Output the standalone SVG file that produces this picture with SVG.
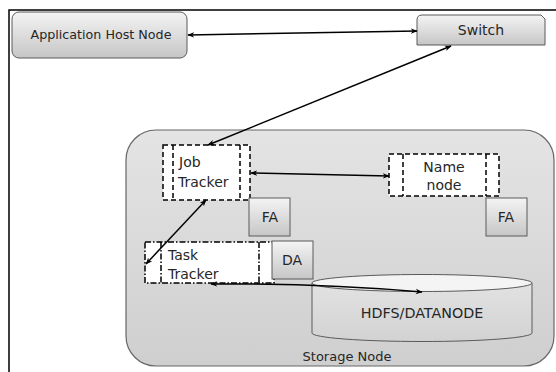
<svg xmlns="http://www.w3.org/2000/svg" width="556" height="372" viewBox="0 0 556 372">
<defs>
  <linearGradient id="gBox" x1="0" y1="0" x2="0" y2="1">
    <stop offset="0" stop-color="#f4f4f4"/>
    <stop offset="1" stop-color="#c6c6c6"/>
  </linearGradient>
  <linearGradient id="gStore" x1="0" y1="0" x2="0" y2="1">
    <stop offset="0" stop-color="#e4e4e4"/>
    <stop offset="1" stop-color="#cfcfcf"/>
  </linearGradient>
  <linearGradient id="gCyl" x1="0" y1="0" x2="0" y2="1">
    <stop offset="0" stop-color="#e2e2e2"/>
    <stop offset="1" stop-color="#d2d2d2"/>
  </linearGradient>
  <marker id="ah" viewBox="0 0 10 10" refX="9" refY="5" markerWidth="7" markerHeight="7" orient="auto-start-reverse" markerUnits="userSpaceOnUse">
    <path d="M0,1 L10,5 L0,9 L3,5 Z" fill="#000"/>
  </marker>
  <style>
    .t { font-family: "DejaVu Sans", Verdana, sans-serif; fill: #262626; }
    .box { fill: url(#gBox); stroke: #5a5a5a; stroke-width: 1; }
    .dash { fill: #fff; stroke: #000; stroke-width: 1.5; stroke-dasharray: 5 3; }
    .dashdot { fill: #fff; stroke: #000; stroke-width: 1.5; stroke-dasharray: 6 2 1.5 2; }
    .conn { fill: none; stroke: #000; stroke-width: 1.5; marker-start: url(#ah); marker-end: url(#ah); }
  </style>
</defs>
<rect width="556" height="372" fill="#fff"/>
<path d="M9,372 L9,10 L556,10" fill="none" stroke="#000" stroke-width="1.5"/>

<g id="app-host">
  <rect class="box" x="12" y="12" width="175" height="46" rx="7"/>
  <text class="t" x="101" y="39" font-size="12.7" text-anchor="middle">Application Host Node</text>
</g>

<g id="switch">
  <path class="box" d="M417,45 L417,20 Q417,15 422,15 L541,15 L545,19 L545,45 Z"/>
  <text class="t" x="481" y="35" font-size="14" text-anchor="middle">Switch</text>
</g>

<g id="storage-node">
  <rect x="126" y="130" width="428" height="236" rx="30" fill="url(#gStore)" stroke="#666" stroke-width="1.2"/>
  <text class="t" x="347" y="361" font-size="13" text-anchor="middle">Storage Node</text>
</g>

<g id="job-tracker">
  <rect class="dash" x="163" y="145" width="87" height="55"/>
  <line x1="173" y1="145" x2="173" y2="200" class="dash"/>
  <line x1="240" y1="145" x2="240" y2="200" class="dash"/>
  <text class="t" x="179" y="167" font-size="14">Job</text>
  <text class="t" x="178" y="187" font-size="14">Tracker</text>
</g>

<g id="name-node">
  <rect class="dash" x="389" y="154" width="110" height="42"/>
  <line x1="403" y1="154" x2="403" y2="196" class="dash"/>
  <line x1="486" y1="154" x2="486" y2="196" class="dash"/>
  <text class="t" x="444" y="172" font-size="14" text-anchor="middle">Name</text>
  <text class="t" x="444" y="190" font-size="14" text-anchor="middle">node</text>
</g>

<g id="fa-1">
  <rect class="box" x="249" y="198" width="41" height="38"/>
  <text class="t" x="270" y="222" font-size="14" text-anchor="middle">FA</text>
</g>

<g id="fa-2">
  <rect class="box" x="486" y="198" width="41" height="38"/>
  <text class="t" x="506" y="222" font-size="14" text-anchor="middle">FA</text>
</g>

<g id="task-tracker">
  <rect class="dashdot" x="145" y="242" width="129" height="41"/>
  <line x1="161" y1="242" x2="161" y2="283" class="dashdot"/>
  <line x1="259" y1="242" x2="259" y2="283" class="dashdot"/>
  <text class="t" x="168" y="260" font-size="14">Task</text>
  <text class="t" x="168" y="279" font-size="14">Tracker</text>
</g>

<g id="da">
  <rect class="box" x="272" y="241" width="41" height="38"/>
  <text class="t" x="292" y="265" font-size="14" text-anchor="middle">DA</text>
</g>

<g id="hdfs">
  <path d="M312,283 L312,333 A110,8.5 0 0 0 532,333 L532,283" fill="url(#gCyl)" stroke="#5a5a5a" stroke-width="1"/>
  <ellipse cx="422" cy="283" rx="110" ry="8.5" fill="#f4f4f4" stroke="#5a5a5a" stroke-width="1"/>
  <text class="t" x="422" y="318" font-size="14.3" text-anchor="middle">HDFS/DATANODE</text>
</g>

<g id="connectors">
  <line class="conn" x1="188" y1="35" x2="417" y2="31"/>
  <line class="conn" x1="451" y1="46" x2="208" y2="145"/>
  <line class="conn" x1="251" y1="173" x2="389" y2="176"/>
  <line class="conn" x1="206" y1="200" x2="146" y2="264"/>
  <path class="conn" d="M211,284 Q320,283 422,292"/>
</g>
</svg>
